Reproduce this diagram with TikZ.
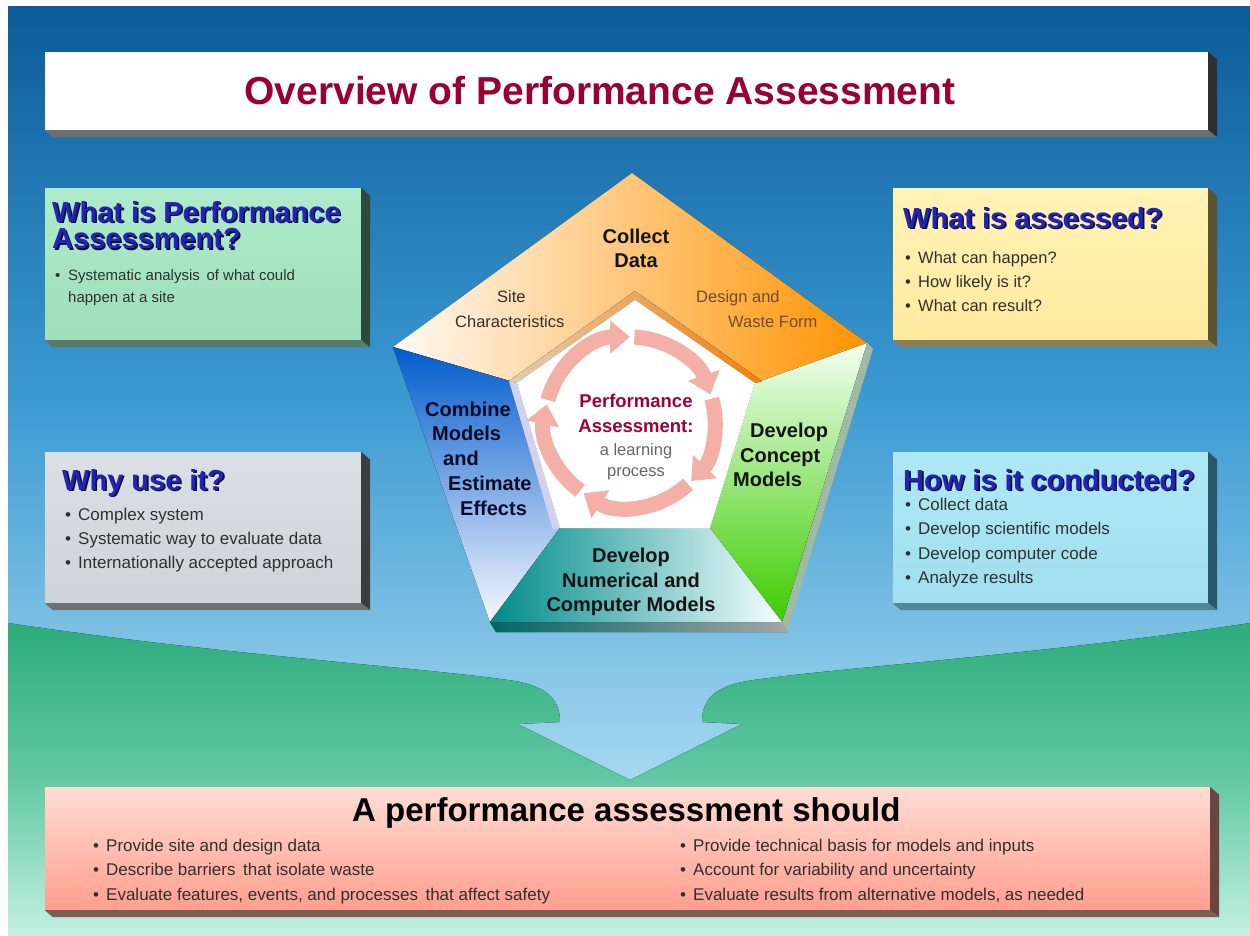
\documentclass[tikz,border=0pt]{standalone}
\usepackage{fontspec}
\setmainfont{Liberation Sans}
\usetikzlibrary{arrows.meta}
\newcommand{\bul}{\makebox[13pt][l]{\textbullet}}
\newcommand{\shadowed}[1]{\makebox[0pt][l]{\hspace{1.6pt}\raisebox{-1.6pt}{\color{headdark}#1}}#1}
\definecolor{skyA}{HTML}{0B5C99}
\definecolor{skyC}{HTML}{3C9AD2}
\definecolor{skyE}{HTML}{A9DAF0}
\definecolor{grnA}{HTML}{2DAC7C}
\definecolor{grnB}{HTML}{62C8A4}
\definecolor{grnC}{HTML}{C4F0E2}
\definecolor{titlered}{HTML}{990033}
\definecolor{headblue}{HTML}{2424B4}
\definecolor{headdark}{HTML}{0E0E3A}
\definecolor{bodygray}{HTML}{303030}
\definecolor{navytext}{HTML}{0A0A2A}
\definecolor{ringpink}{HTML}{F4AFA6}
\definecolor{whattop}{HTML}{AEEBCB}
\definecolor{whatbot}{HTML}{9FDEB9}
\definecolor{asdtop}{HTML}{FFF3B6}
\definecolor{asdbot}{HTML}{FFEA9E}
\definecolor{whytop}{HTML}{DAE0E4}
\definecolor{whybot}{HTML}{CCD4D8}
\definecolor{howtop}{HTML}{AFE8F4}
\definecolor{howbot}{HTML}{A0DFEE}
\definecolor{shdtop}{HTML}{FFDDD4}
\definecolor{shdbot}{HTML}{FF9E8E}
\definecolor{ttlside}{HTML}{2E2E2E}
\definecolor{ttlbase}{HTML}{6E6E6E}
\definecolor{whatside}{HTML}{2B4A3B}
\definecolor{whatbase}{HTML}{577A68}
\definecolor{asdside}{HTML}{5C5232}
\definecolor{asdbase}{HTML}{8C7E52}
\definecolor{whyside}{HTML}{3A3E40}
\definecolor{whybase}{HTML}{6C7274}
\definecolor{howside}{HTML}{28586A}
\definecolor{howbase}{HTML}{4D8799}
\definecolor{shdside}{HTML}{6A4640}
\definecolor{shdbase}{HTML}{7E5C56}

\begin{document}
\begin{tikzpicture}[x=1pt, y=-1pt,
    panel/.style={inner sep=0, draw=none},
    head/.style={font=\fontsize{29}{26.5}\selectfont\bfseries, text=headblue,
      anchor=base west, inner sep=0, align=left},
    item/.style={font=\fontsize{17}{20}\selectfont, text=bodygray,
      anchor=base west, inner sep=0},
    pentlbl/.style={font=\fontsize{20}{24}\selectfont\bfseries, text=black!92,
      anchor=base west, inner sep=0},
    pentsub/.style={font=\fontsize{16.5}{20}\selectfont, anchor=base west, inner sep=0},
    ringarrow/.style={line width=15pt, draw=ringpink, -{Triangle[length=20pt, width=32pt]}}]
  \useasboundingbox (0,0) rectangle (1250,935);
  \fill[white] (0,0) rectangle (1250,935);
  % sky and meadow with the big arrow
  \fill[top color=skyA, bottom color=skyE, middle color=skyC] (8,6) rectangle (1250,790);
  \fill[top color=grnA, bottom color=grnC, middle color=grnB]
    (8,623) .. controls (220,655) and (430,668) .. (515,681)
    .. controls (548,687) and (560,700) .. (560,722) -- (518,724) -- (630,780)
    -- (742,724) -- (702,722) .. controls (702,700) and (714,687) .. (747,681)
    .. controls (832,668) and (1040,655) .. (1250,623) -- (1250,935) -- (8,935) -- cycle;

  % panels
  \node[panel, minimum width=1163pt, minimum height=78pt, fill=white] (ttl) at (626.5,91) {};
  \node[panel, minimum width=316pt, minimum height=152pt, top color=whattop, bottom color=whatbot] (what) at (203,264) {};
  \node[panel, minimum width=315pt, minimum height=152pt, top color=asdtop, bottom color=asdbot] (asd) at (1050.5,264) {};
  \node[panel, minimum width=316pt, minimum height=151pt, top color=whytop, bottom color=whybot] (why) at (203,527.5) {};
  \node[panel, minimum width=315pt, minimum height=151pt, top color=howtop, bottom color=howbot] (how) at (1050.5,527.5) {};
  \node[panel, minimum width=1165pt, minimum height=123pt, top color=shdtop, bottom color=shdbot] (shd) at (627.5,848.5) {};
  \foreach \b in {ttl,what,asd,why,how,shd} {
    \fill[\b side] (\b.north east) -- ([shift={(9,8)}]\b.north east)
      -- ([shift={(9,7)}]\b.south east) -- (\b.south east) -- cycle;
    \fill[\b base] (\b.south west) -- ([shift={(8,7)}]\b.south west)
      -- ([shift={(9,7)}]\b.south east) -- (\b.south east) -- cycle;
  }

  \node[font=\fontsize{39}{44}\selectfont\bfseries, text=titlered, anchor=base, inner sep=0]
    (ttltext) at (600,104) {Overview of Performance Assessment};

  % panel headings
  \node[head, anchor=north west] (wh1) at (52,201) {\shadowed{What is Performance}\\\shadowed{Assessment?}};
  \foreach \n/\x/\y/\t in {as1/903/228/What is assessed?, wy1/62/490/Why use it?, hw1/903/490/How is it conducted?}
    \node[head] (\n) at (\x,\y) {\shadowed{\t}};

  % panel bullets
  \node[item, font=\fontsize{15}{18}\selectfont] (what1) at (55,280) {\bul Systematic analysis\, of what could};
  \node[item, font=\fontsize{15}{18}\selectfont] (what2) at (68,302) {happen at a site};
  \foreach \t [count=\i] in {What can happen?, How likely is it?, What can result?}
    \node[item, font=\fontsize{16.5}{20}\selectfont] (asd\i) at (905,{263+24*(\i-1)}) {\bul\t};
  \foreach \t [count=\i] in {Complex system, Systematic way to evaluate data, Internationally accepted approach}
    \node[item] (why\i) at (65,{520+24*(\i-1)}) {\bul\t};
  \foreach \t [count=\i] in {Collect data, Develop scientific models, Develop computer code, Analyze results}
    \node[item] (how\i) at (905,{510+24.5*(\i-1)}) {\bul\t};

  % bottom panel
  \node[font=\fontsize{33}{36}\selectfont\bfseries, text=black, anchor=base west, inner sep=0]
    (shdtext) at (352,821) {A performance assessment should};
  \foreach \t [count=\i] in {Provide site and design data, Describe barriers\, that isolate waste,
      {Evaluate features, events, and processes\, that affect safety}}
    \node[item] (sl\i) at (93,{851+24.5*(\i-1)}) {\bul\t};
  \foreach \t [count=\i] in {Provide technical basis for models and inputs, Account for variability and uncertainty,
      {Evaluate results from alternative models, as needed}}
    \node[item] (sr\i) at (680,{851+24.5*(\i-1)}) {\bul\t};

  % pentagon
  \coordinate (oT) at (632,173);  \coordinate (oL) at (393,347);  \coordinate (oR) at (867,343);
  \coordinate (oBL) at (490,622); \coordinate (oBR) at (782,622);
  \coordinate (iT) at (635,300);  \coordinate (iL) at (517,383);  \coordinate (iR) at (755,383);
  \coordinate (iBL) at (560,528); \coordinate (iBR) at (710,528);
  \fill[left color=teal!80!black, right color=gray!70] (oBL) -- (oBR)
    -- ([shift={(5,10)}]oBR) -- ([shift={(6,10)}]oBL) -- cycle;
  \fill[gray!60!green!30!white!80!black] (oR) -- ([shift={(6,6)}]oR) -- ([shift={(5,10)}]oBR) -- (oBR) -- cycle;
  \fill[left color=orange!4!white, right color=orange!85!yellow] (oL) -- (oT) -- (oR) -- (iR) -- (iT) -- (iL) -- cycle;
  \fill[top color=blue!55!cyan!80!black, bottom color=blue!3!white] (oL) -- (iL) -- (iBL) -- (oBL) -- cycle;
  \fill[top color=green!5!white, bottom color=green!60!lime!80!black] (oR) -- (oBR) -- (iBR) -- (iR) -- cycle;
  \fill[left color=teal!80!cyan!90!black, right color=cyan!4!white] (iBL) -- (iBR) -- (oBR) -- (oBL) -- cycle;
  % bevel round the centre
  \fill[left color=gray!55!orange!40, right color=orange!80!brown] ([shift={(-8,-2)}]iL) -- ([shift={(0,-9)}]iT)
    -- ([shift={(7,-2)}]iR) -- (iR) -- (iT) -- (iL) -- cycle;
  \fill[gray!60!blue!25] ([shift={(-8,-2)}]iL) -- (iL) -- (iBL) -- ([shift={(-7,2)}]iBL) -- cycle;
  \fill[white] (iT) -- (iR) -- (iBR) -- (iBL) -- (iL) -- cycle;

  % learning cycle
  \begin{scope}[shift={(630,422)}, y=1pt]
    \foreach \s/\e in {165/90, 87/19, 16/-44, -47/-123, -126/-192}
      \draw[ringarrow] (\s:85) arc[start angle=\s, end angle=\e, radius=85pt];
  \end{scope}

  % pentagon labels
  \node[pentlbl, anchor=base] (col1) at (636,243) {Collect};
  \node[pentlbl, anchor=base] (col2) at (636,267) {Data};
  \node[pentsub, text=bodygray] (site1) at (497,302) {Site};
  \node[pentsub, text=bodygray] (site2) at (455,327) {Characteristics};
  \node[pentsub, text=brown!60!black] (dsg1) at (696,302) {Design and};
  \node[pentsub, text=brown!60!black] (dsg2) at (728,327) {Waste Form};
  \foreach \t/\x/\y [count=\i] in {Combine/425/416, Models/432/440, and/443/465, Estimate/448/490, Effects/460/515}
    \node[pentlbl, text=navytext] (cmb\i) at (\x,\y) {\t};
  \foreach \t/\x/\y [count=\i] in {Develop/750/437, Concept/740/462, Models/733/486}
    \node[pentlbl] (cpt\i) at (\x,\y) {\t};
  \foreach \t/\y [count=\i] in {Develop/562, Numerical and/587, Computer Models/611}
    \node[pentlbl, anchor=base] (num\i) at (631,\y) {\t};
  \node[pentlbl, anchor=base, font=\fontsize{18.5}{22}\selectfont\bfseries, text=titlered!85!purple] (pa1) at (636,407) {Performance};
  \node[pentlbl, anchor=base, font=\fontsize{18.5}{22}\selectfont\bfseries, text=titlered!85!purple] (pa2) at (636,432) {Assessment:};
  \node[pentsub, anchor=base, text=gray!80!black] (pa3) at (636,455) {a learning};
  \node[pentsub, anchor=base, text=gray!80!black] (pa4) at (636,476) {process};
\end{tikzpicture}
\end{document}
